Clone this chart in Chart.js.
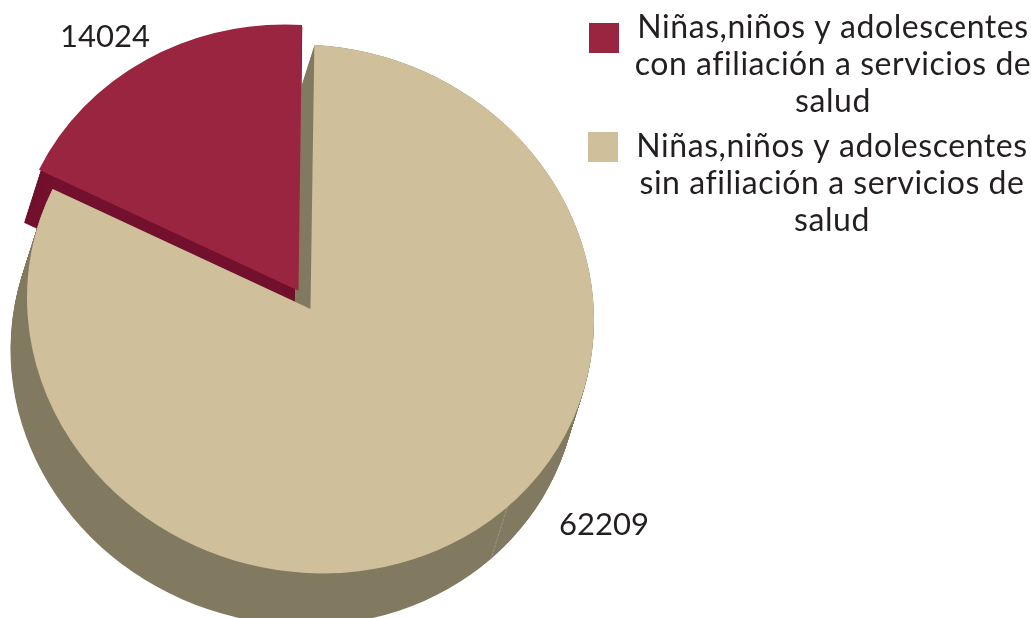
<!DOCTYPE html>
<html lang="es"><head><meta charset="utf-8">
<style>html,body{margin:0;padding:0;background:#fff;overflow:hidden}#wrap{width:1031px;height:618px;position:relative}</style>
<script src="https://cdn.jsdelivr.net/npm/chart.js@4"></script></head>
<body><div id="wrap"><canvas id="c" width="1031" height="618"></canvas></div>
<script>
const categories = ["Niñas,niños y adolescentes con afiliación a servicios de salud","Niñas,niños y adolescentes sin afiliación a servicios de salud"];
const legendLines = [["Niñas,niños y adolescentes","con afiliación a servicios de","salud"],["Niñas,niños y adolescentes","sin afiliación a servicios de","salud"]];
const values = [14024, 62209];
const faceColors = ["#9a2541","#cfbf9a"];
const sideColors = ["#72102d","#827a60"];
const TEXT = "#231f20";
const SCALE_Y = 0.932, SHEAR = 0.04, DEPTH_X = -16.5, DEPTH_Y = 52, SEAM_DEG = 136;

function squash(chart){
  const a = chart.getDatasetMeta(0).data[0], ctx = chart.ctx;
  ctx.translate(a.x, a.y); ctx.transform(1, SHEAR, 0, SCALE_Y, 0, 0); ctx.translate(-a.x, -a.y);
}
const pie3d = {
  id:'pie3d',
  beforeDatasetsDraw(chart){
    const ctx = chart.ctx, arcs = chart.getDatasetMeta(0).data;
    [0,1].forEach(i=>{
      const el = arcs[i], off = (el.options.offset||0)/4, mid=(el.startAngle+el.endAngle)/2;
      const x = el.x+Math.cos(mid)*off, y = el.y+Math.sin(mid)*off;
      ctx.fillStyle = sideColors[i];
      for(let k=0;k<=DEPTH_Y;k++){
        ctx.save();
        ctx.translate(DEPTH_X*k/DEPTH_Y, k);
        squash(chart);
        ctx.beginPath(); ctx.moveTo(x,y); ctx.arc(x,y,el.outerRadius,el.startAngle,el.endAngle); ctx.closePath(); ctx.fill();
        ctx.restore();
      }
    });
    // seam on the wall
    const el = arcs[1], ang = (SEAM_DEG-90)*Math.PI/180;
    const dx = Math.cos(ang)*el.outerRadius, dy = Math.sin(ang)*el.outerRadius;
    const px = el.x+dx, py = el.y+dy*SCALE_Y+dx*SHEAR;
    ctx.save(); ctx.strokeStyle='#a39c84'; ctx.lineWidth=0.8; ctx.setLineDash([3,1]);
    ctx.beginPath(); ctx.moveTo(px,py); ctx.lineTo(px+DEPTH_X,py+DEPTH_Y); ctx.stroke(); ctx.restore();
    ctx.save(); squash(chart);
  },
  afterDatasetsDraw(chart){
    const ctx = chart.ctx; ctx.restore();
    ctx.save();
    ctx.font = '31px Lato'; ctx.fillStyle = TEXT; ctx.textBaseline='alphabetic'; ctx.textAlign='center';
    ctx.fillText(String(values[0]),105,47);
    ctx.fillText(String(values[1]),604,535);
    ctx.font = '32px Lato'; ctx.letterSpacing='0.55px';
    const swatch=[[589,23],[588,132]], base=[38,157], cx=[833,832];
    legendLines.forEach((lines,i)=>{
      ctx.fillStyle=faceColors[i]; ctx.fillRect(swatch[i][0],swatch[i][1],30,30);
      ctx.fillStyle=TEXT;
      lines.forEach((t,j)=>ctx.fillText(t,cx[i],base[i]+j*37));
    });
    ctx.restore();
  }
};
new Chart(document.getElementById('c'),{
  type:'pie',
  data:{labels:categories,datasets:[{data:values,backgroundColor:faceColors,borderWidth:0,offset:[90,0],radius:283.5}]},
  options:{
    responsive:false,animation:false,rotation:-65.45,
    layout:{padding:{left:0,right:410,top:0,bottom:0}},
    plugins:{legend:{display:false},tooltip:{enabled:false}}
  },
  plugins:[pie3d]
});
</script></body></html>
